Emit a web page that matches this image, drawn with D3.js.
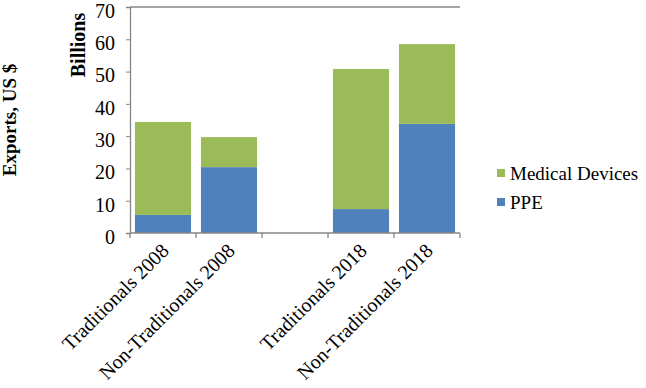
<!DOCTYPE html>
<html>
<head>
<meta charset="utf-8">
<script src="https://cdn.jsdelivr.net/npm/d3@7"></script>
<style>
  body { margin: 0; background: #fff; }
  text { font-family: "Liberation Serif", "Times New Roman", serif; fill: #000; }
</style>
</head>
<body>
<div id="chart"></div>
<script>
// categories (blank slot is the gap between the two years)
const categories = ["Traditionals 2008", "Non-Traditionals 2008", "", "Traditionals 2018", "Non-Traditionals 2018"];
const ppe = [5.6, 20.4, 0, 7.4, 33.8];
const medicalDevices = [28.8, 9.3, 0, 43.4, 24.7];
const yTicks = [0, 10, 20, 30, 40, 50, 60, 70];
const seriesNames = ["PPE", "Medical Devices"];
const seriesColors = ["#4F81BD", "#9BBB59"];

const width = 646, height = 388;
const margin = { left: 130, right: 186, top: 7, bottom: 155 };

const svg = d3.select("#chart").append("svg")
  .attr("width", width)
  .attr("height", height);

const x = d3.scaleBand()
  .domain(categories.map((c, i) => i))
  .range([margin.left, width - margin.right])
  .paddingInner(0.15)
  .paddingOuter(0.075);

const y = d3.scaleLinear()
  .domain([0, 70])
  .range([height - margin.bottom, margin.top]);

const rows = categories.map((c, i) => ({ i, cat: c, PPE: ppe[i], "Medical Devices": medicalDevices[i] }));
const stacked = d3.stack().keys(seriesNames)(rows);

// bars
svg.append("g")
  .selectAll("g")
  .data(stacked)
  .enter().append("g")
  .attr("fill", (d, k) => seriesColors[k])
  .selectAll("rect")
  .data(d => d.filter(p => p[1] > p[0]))
  .enter().append("rect")
  .attr("x", d => x(d.data.i))
  .attr("width", x.bandwidth())
  .attr("y", d => y(d[1]))
  .attr("height", d => y(d[0]) - y(d[1]));

const axisColor = "#868686";
const x0 = margin.left, x1 = width - margin.right;

// top border line
svg.append("line")
  .attr("x1", x0).attr("x2", x1)
  .attr("y1", y(70)).attr("y2", y(70))
  .attr("stroke", axisColor).attr("stroke-width", 1.3);

// y axis
const yAxis = svg.append("g")
  .attr("transform", `translate(${x0},0)`)
  .call(d3.axisLeft(y).tickValues(yTicks).tickSize(4).tickPadding(11));
yAxis.select(".domain").attr("stroke", axisColor).attr("stroke-width", 1.3);
yAxis.selectAll(".tick line").attr("stroke", axisColor);
yAxis.selectAll(".tick text")
  .style("font-size", "20px")
  .style("font-family", "Liberation Serif, serif")
  .attr("dy", "0.52em");

// x axis baseline + boundary ticks
const xAxisG = svg.append("g");
xAxisG.append("line")
  .attr("x1", x0).attr("x2", x1)
  .attr("y1", y(0)).attr("y2", y(0))
  .attr("stroke", axisColor).attr("stroke-width", 1.3);
const bounds = d3.range(categories.length + 1).map(k => x0 + k * (x1 - x0) / categories.length);
xAxisG.selectAll("line.tk")
  .data(bounds)
  .enter().append("line")
  .attr("class", "tk")
  .attr("x1", d => d).attr("x2", d => d)
  .attr("y1", y(0)).attr("y2", y(0) + 5)
  .attr("stroke", axisColor).attr("stroke-width", 1.3);

// x labels rotated
xAxisG.selectAll("text")
  .data(rows.filter(r => r.cat !== ""))
  .enter().append("text")
  .attr("text-anchor", "end")
  .attr("transform", d => `translate(${x(d.i) + x.bandwidth() / 2 + 7},${y(0) + 19}) rotate(-45)`)
  .style("font-size", "20px")
  .text(d => d.cat);

// axis titles
svg.append("text")
  .attr("transform", `translate(85,45) rotate(-90)`)
  .attr("text-anchor", "middle")
  .style("font-size", "20px")
  .style("font-weight", "bold")
  .text("Billions");

svg.append("text")
  .attr("transform", `translate(16,120) rotate(-90)`)
  .attr("text-anchor", "middle")
  .style("font-size", "19px")
  .style("font-weight", "bold")
  .text("Exports, US $");

// legend (Medical Devices on top)
const legendItems = [
  { name: seriesNames[1], color: seriesColors[1] },
  { name: seriesNames[0], color: seriesColors[0] }
];
const legend = svg.append("g").attr("transform", "translate(497,169)");
const li = legend.selectAll("g")
  .data(legendItems)
  .enter().append("g")
  .attr("transform", (d, k) => `translate(0,${k * 29})`);
li.append("rect")
  .attr("width", 8).attr("height", 8)
  .attr("fill", d => d.color);
li.append("text")
  .attr("x", 13)
  .attr("y", 4)
  .attr("dy", "0.35em")
  .style("font-size", "19px")
  .text(d => d.name);
</script>
</body>
</html>
